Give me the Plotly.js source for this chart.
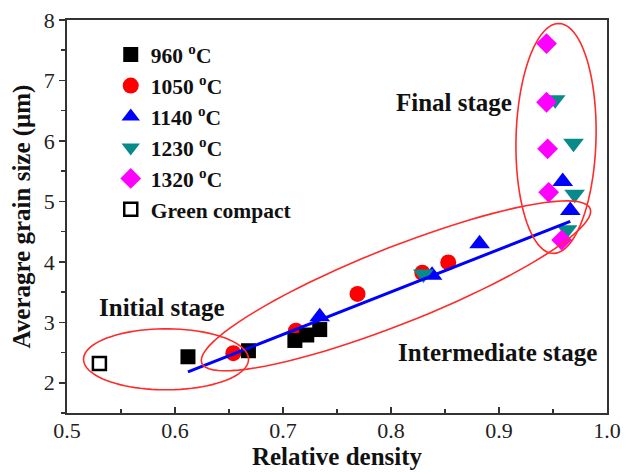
<!DOCTYPE html>
<html>
<head>
<meta charset="utf-8">
<script src="https://cdn.plot.ly/plotly-3.0.1.min.js"></script>
<style>html,body{margin:0;padding:0;background:#fff;}</style>
</head>
<body>
<div id="chart" style="width:631px;height:472px;"></div>
<script>
// ---- data ----
const x960 = [0.612, 0.668, 0.711, 0.722, 0.734];
const y960 = [2.43, 2.53, 2.70, 2.79, 2.88];
const x1050 = [0.654, 0.712, 0.769, 0.829, 0.853];
const y1050 = [2.49, 2.86, 3.47, 3.82, 3.99];
const x1140 = [0.734, 0.838, 0.882, 0.959, 0.966];
const y1140 = [3.09, 3.78, 4.30, 5.33, 4.85];
const x1230 = [0.830, 0.952, 0.969, 0.970, 0.963];
const y1230 = [3.80, 6.68, 5.96, 5.12, 4.53];
const x1320 = [0.944, 0.944, 0.945, 0.946, 0.958];
const y1320 = [7.61, 6.64, 5.87, 5.15, 4.36];
const xGreen = [0.530];
const yGreen = [2.32];
const fitX = [0.612, 0.966];
const fitY = [2.18, 4.67];
const seriesNames = ['960 <sup>o</sup>C', '1050 <sup>o</sup>C', '1140 <sup>o</sup>C', '1230 <sup>o</sup>C', '1320 <sup>o</sup>C', 'Green compact'];
const stageLabels = ['Initial stage', 'Intermediate stage', 'Final stage'];
const xTicks = [0.5, 0.6, 0.7, 0.8, 0.9, 1.0];
const xTickText = ['0.5', '0.6', '0.7', '0.8', '0.9', '1.0'];
const yTicks = [2, 3, 4, 5, 6, 7, 8];

// ---- geometry helpers (for annotation ellipses) ----
const XR = [0.5, 1.0], YR = [1.5, 8];
const M = {l: 67, r: 24, t: 20, b: 59};
const W = 631, H = 472;
const pxPerX = (W - M.l - M.r) / (XR[1] - XR[0]);
const pxPerY = (H - M.t - M.b) / (YR[1] - YR[0]);
function ellipsePath(cx, cy, rx, ry, angDeg) {
  const t = angDeg * Math.PI / 180;
  let p = '';
  for (let i = 0; i <= 90; i++) {
    const f = i / 90 * 2 * Math.PI;
    const dx = rx * Math.cos(f) * Math.cos(t) - ry * Math.sin(f) * Math.sin(t);
    const dy = rx * Math.cos(f) * Math.sin(t) + ry * Math.sin(f) * Math.cos(t);
    p += (i === 0 ? 'M' : 'L') + (cx + dx / pxPerX).toFixed(5) + ',' + (cy + dy / pxPerY).toFixed(5);
  }
  return p + 'Z';
}

const serif = '"Liberation Serif", "Times New Roman", Times, serif';

const traces = [
  {x: x1050, y: y1050, name: seriesNames[1], legendrank: 2, type: 'scatter', mode: 'markers',
   marker: {symbol: 'circle', size: 16, color: '#ff0000'}},
  {x: x960, y: y960, name: seriesNames[0], legendrank: 1, type: 'scatter', mode: 'markers',
   marker: {symbol: 'square', size: 15, color: '#000000'}},
  {x: x1140, y: y1140, name: seriesNames[2], legendrank: 3, type: 'scatter', mode: 'markers',
   marker: {symbol: 'triangle-up', size: 18, color: '#0000ff'}},
  {x: x1230, y: y1230, name: seriesNames[3], legendrank: 4, type: 'scatter', mode: 'markers',
   marker: {symbol: 'triangle-down', size: 18, color: '#088a8a'}},
  {x: x1320, y: y1320, name: seriesNames[4], legendrank: 5, type: 'scatter', mode: 'markers',
   marker: {symbol: 'diamond', size: 16, color: '#ff00ff'}},
  {x: xGreen, y: yGreen, name: seriesNames[5], legendrank: 6, type: 'scatter', mode: 'markers',
   marker: {symbol: 'square-open', size: 13, color: '#000000', line: {width: 2.5, color: '#000000'}}},
  {x: fitX, y: fitY, type: 'scatter', mode: 'lines', showlegend: false,
   line: {color: '#0000ff', width: 3}}
];

const ellStyle = {color: '#ff2a2a', width: 1.6};
const layout = {
  width: W, height: H,
  margin: M,
  paper_bgcolor: '#ffffff', plot_bgcolor: '#ffffff',
  font: {family: serif, color: '#111111'},
  showlegend: true,
  legend: {x: 0.081, y: 0.964, xanchor: 'left', yanchor: 'top', bgcolor: 'rgba(0,0,0,0)',
           font: {family: serif, size: 21.5, color: '#111111', weight: 'bold'}, traceorder: 'normal'},
  xaxis: {range: XR, tickvals: xTicks, ticktext: xTickText, ticks: 'inside', ticklen: 6, tickwidth: 1.5,
          tickcolor: '#333', showline: true, linecolor: '#333', linewidth: 1.8, mirror: true,
          showgrid: false, zeroline: false, tickfont: {family: serif, size: 22, color: '#222'},
          ticklabelstandoff: -3,
          minor: {dtick: 0.05, ticks: 'inside', ticklen: 4, tickwidth: 1.5, tickcolor: '#333', showgrid: false},
          title: {text: 'Relative density', font: {family: serif, size: 25, weight: 'bold', color: '#111'}, standoff: 4}},
  yaxis: {range: YR, tickvals: yTicks, ticks: 'outside', ticklen: 6, tickwidth: 1.5,
          tickcolor: '#333', showline: true, linecolor: '#333', linewidth: 1.8, mirror: true,
          showgrid: false, zeroline: false, tickfont: {family: serif, size: 22, color: '#222'},
          minor: {dtick: 0.5, ticks: 'outside', ticklen: 4, tickwidth: 1.5, tickcolor: '#333', showgrid: false},
          title: {text: 'Averagre grain size (μm)', font: {family: serif, size: 25, weight: 'bold', color: '#111'}, standoff: 6}},
  shapes: [
    {type: 'path', xref: 'x', yref: 'y', path: ellipsePath(0.5917, 2.388, 82.5, 30.5, 0), line: ellStyle},
    {type: 'path', xref: 'x', yref: 'y', path: ellipsePath(0.8046, 3.603, 209, 38, 21.7), line: ellStyle},
    {type: 'path', xref: 'x', yref: 'y', path: ellipsePath(0.9528, 6.041, 40, 115, -1.5), line: ellStyle}
  ],
  annotations: [
    {text: stageLabels[0], x: 0.588, y: 3.25, xref: 'x', yref: 'y', showarrow: false, xanchor: 'center', yanchor: 'middle',
     font: {family: serif, size: 25, weight: 'bold', color: '#111'}},
    {text: stageLabels[1], x: 0.899, y: 2.50, xref: 'x', yref: 'y', showarrow: false, xanchor: 'center', yanchor: 'middle',
     font: {family: serif, size: 25, weight: 'bold', color: '#111'}},
    {text: stageLabels[2], x: 0.858, y: 6.636, xref: 'x', yref: 'y', showarrow: false, xanchor: 'center', yanchor: 'middle',
     font: {family: serif, size: 25, weight: 'bold', color: '#111'}}
  ]
};

Plotly.newPlot('chart', traces, layout, {displayModeBar: false, staticPlot: true});
</script>
</body>
</html>
